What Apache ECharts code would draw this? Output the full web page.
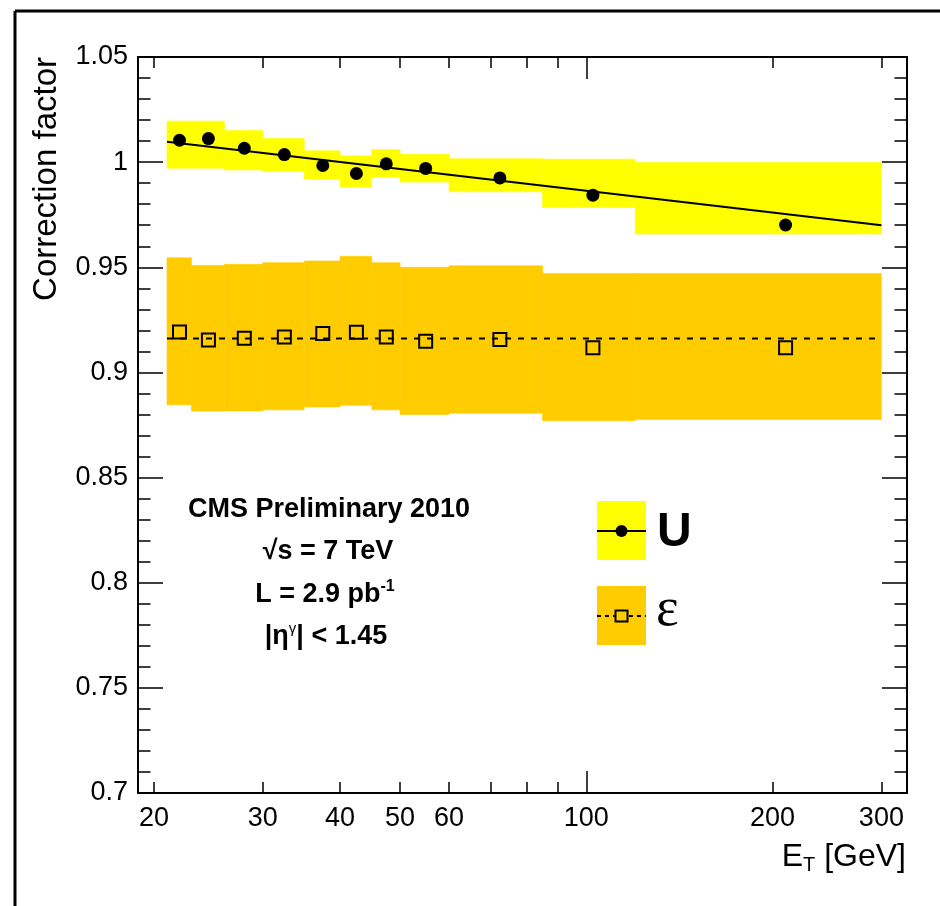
<!DOCTYPE html>
<html>
<head>
<meta charset="utf-8">
<script src="https://cdn.jsdelivr.net/npm/echarts@6/dist/echarts.min.js"></script>
<style>
html,body{margin:0;padding:0;background:#fff;}
#chart{width:940px;height:906px;}
</style>
</head>
<body>
<div id="chart"></div>
<script>
// ---- data ----
const binEdges = [21, 23, 26, 30, 35, 40, 45, 50, 60, 85, 120, 300];
const binCenters = [22, 24.5, 28, 32.5, 37.5, 42.5, 47.5, 55, 72.5, 102.5, 210];
const uValues = [1.0104, 1.0112, 1.0066, 1.0036, 0.9984, 0.9946, 0.9992, 0.9970, 0.9925, 0.9843, 0.9701];
const uBandHigh = [1.0195, 1.0195, 1.0150, 1.0112, 1.0054, 1.0030, 1.0060, 1.0038, 1.0016, 1.0014, 0.9998];
const uBandLow = [0.9971, 0.9971, 0.9963, 0.9955, 0.9919, 0.9881, 0.9927, 0.9905, 0.9859, 0.9784, 0.9658];
const effValues = [0.9192, 0.9154, 0.9162, 0.9169, 0.9185, 0.9191, 0.9169, 0.9148, 0.9156, 0.9117, 0.9117];
const effBandHigh = [0.9545, 0.9509, 0.9514, 0.9522, 0.9530, 0.9552, 0.9522, 0.9500, 0.9507, 0.9471, 0.9471];
const effBandLow = [0.8846, 0.8816, 0.8817, 0.8822, 0.8836, 0.8844, 0.8822, 0.8800, 0.8806, 0.8770, 0.8776];
const uFit = [[21, 1.0097], [300, 0.9700]];
const effFit = [[21, 0.9161], [300, 0.9161]];
const xRange = [18.85, 330];
const xMinorTicks = [20, 30, 40, 50, 60, 70, 80, 90, 200, 300];
const xMajorTicks = [100];
const xTickLabels = [20, 30, 40, 50, 60, 100, 200, 300];
const yTickLabels = [0.7, 0.75, 0.8, 0.85, 0.9, 0.95, 1, 1.05];

// ---- helpers ----
const L = v => Math.log10(v);
const FONT = '"Liberation Sans", Arial, Helvetica, sans-serif';
const bandData = (lo, hi) => lo.map((v, i) => [L(binEdges[i]), L(binEdges[i + 1]), v, hi[i]]);
const bandRender = color => function (params, api) {
  const p0 = api.coord([api.value(0), api.value(3)]);
  const p1 = api.coord([api.value(1), api.value(2)]);
  return {
    type: 'rect',
    shape: { x: p0[0], y: p0[1], width: p1[0] - p0[0], height: p1[1] - p0[1] },
    style: { fill: color, stroke: color, lineWidth: 0.6 }
  };
};

const chart = echarts.init(document.getElementById('chart'), null, { renderer: 'canvas' });

const xBase = {
  type: 'value', min: L(xRange[0]), max: L(xRange[1]), gridIndex: 0,
  splitLine: { show: false }, axisPointer: { show: false }
};
const yBase = {
  type: 'value', min: 0.7, max: 1.05, interval: 0.05,
  splitLine: { show: false }, minorSplitLine: { show: false },
  axisLine: { show: true, onZero: false, lineStyle: { color: '#000', width: 2 } },
  axisTick: { show: true, inside: true, length: 25, lineStyle: { color: '#000', width: 1.5 } },
  minorTick: { show: true, splitNumber: 5, length: 12.5, lineStyle: { color: '#000', width: 1.5 } }
};

const option = {
  animation: false,
  backgroundColor: '#fff',
  grid: { left: 138, top: 57, width: 769, height: 736, containLabel: false, show: false },
  xAxis: [
    Object.assign({}, xBase, {
      position: 'bottom',
      axisLine: { show: true, onZero: false, lineStyle: { color: '#000', width: 2 } },
      axisTick: { show: true, inside: true, length: 11, customValues: xMinorTicks.map(L), lineStyle: { color: '#000', width: 1.5 } },
      axisLabel: {
        show: true, customValues: xTickLabels.map(L), margin: 12,
        color: '#000', fontSize: 27, fontFamily: FONT,
        formatter: v => String(Math.round(Math.pow(10, v)))
      }
    }),
    Object.assign({}, xBase, {
      position: 'bottom',
      axisLine: { show: false, onZero: false },
      axisTick: { show: true, inside: true, length: 22, customValues: xMajorTicks.map(L), lineStyle: { color: '#000', width: 1.5 } },
      axisLabel: { show: false }
    }),
    Object.assign({}, xBase, {
      position: 'top',
      axisLine: { show: true, onZero: false, lineStyle: { color: '#000', width: 2 } },
      axisTick: { show: true, inside: true, length: 11, customValues: xMinorTicks.map(L), lineStyle: { color: '#000', width: 1.5 } },
      axisLabel: { show: false }
    }),
    Object.assign({}, xBase, {
      position: 'top',
      axisLine: { show: false, onZero: false },
      axisTick: { show: true, inside: true, length: 22, customValues: xMajorTicks.map(L), lineStyle: { color: '#000', width: 1.5 } },
      axisLabel: { show: false }
    })
  ],
  yAxis: [
    Object.assign({}, yBase, {
      position: 'left',
      axisLabel: {
        show: true, margin: 10, color: '#000', fontSize: 27, fontFamily: FONT,
        customValues: yTickLabels, showMinLabel: true, showMaxLabel: true,
        formatter: v => String(parseFloat(Number(v).toFixed(2)))
      }
    }),
    Object.assign({}, yBase, {
      position: 'right',
      axisLabel: { show: false }
    })
  ],
  series: [
    {
      type: 'custom', name: 'U band', renderItem: bandRender('#FFFF00'),
      data: bandData(uBandLow, uBandHigh), encode: { x: [0, 1], y: [2, 3] }, z: 1, silent: true
    },
    {
      type: 'custom', name: 'eps band', renderItem: bandRender('#FFCC00'),
      data: bandData(effBandLow, effBandHigh), encode: { x: [0, 1], y: [2, 3] }, z: 1, silent: true
    },
    {
      type: 'line', name: 'U fit', data: uFit.map(p => [L(p[0]), p[1]]),
      showSymbol: false, symbol: 'none', lineStyle: { color: '#000', width: 2 }, z: 3, silent: true
    },
    {
      type: 'line', name: 'eps fit', data: effFit.map(p => [L(p[0]), p[1]]),
      showSymbol: false, symbol: 'none', lineStyle: { color: '#000', width: 2, type: [6, 7] }, z: 3, silent: true
    },
    {
      type: 'scatter', name: 'U', data: binCenters.map((x, i) => [L(x), uValues[i]]),
      symbol: 'circle', symbolSize: 13, itemStyle: { color: '#000', opacity: 1 }, z: 5, silent: true
    },
    {
      type: 'scatter', name: 'ε', data: binCenters.map((x, i) => [L(x), effValues[i]]),
      symbol: 'rect', symbolSize: 13,
      itemStyle: { color: 'rgba(0,0,0,0)', borderColor: '#000', borderWidth: 2, opacity: 1 }, z: 5, silent: true
    }
  ],
  graphic: [
    // outer frame (left and top edges)
    { type: 'line', shape: { x1: 15, y1: 11, x2: 15, y2: 906 }, style: { stroke: '#000', lineWidth: 3 } },
    { type: 'line', shape: { x1: 15, y1: 11, x2: 940, y2: 11 }, style: { stroke: '#000', lineWidth: 3 } },
    // axis titles
    {
      type: 'text', x: 47, y: 57, rotation: Math.PI / 2,
      style: { text: 'Correction factor', font: '33px ' + FONT, fill: '#000',
        align: 'right', verticalAlign: 'middle', textAlign: 'right', textVerticalAlign: 'middle' }
    },
    {
      type: 'text', x: 906, y: 857,
      style: {
        text: '{e|E}{t|T}{e| [GeV]}', fill: '#000', align: 'right', verticalAlign: 'middle',
        textAlign: 'right', textVerticalAlign: 'middle',
        rich: {
          e: { fontSize: 32, fontFamily: FONT, lineHeight: 36, verticalAlign: 'middle', color: '#000' },
          t: { fontSize: 20, fontFamily: FONT, lineHeight: 20, verticalAlign: 'bottom', color: '#000' }
        }
      }
    },
    // annotation
    {
      type: 'text', x: 329, y: 510,
      style: { text: 'CMS Preliminary 2010', font: 'bold 27px ' + FONT, fill: '#000',
        align: 'center', verticalAlign: 'middle', textAlign: 'center', textVerticalAlign: 'middle' }
    },
    {
      type: 'text', x: 328, y: 552,
      style: { text: '√s = 7 TeV', font: 'bold 27px ' + FONT, fill: '#000',
        align: 'center', verticalAlign: 'middle', textAlign: 'center', textVerticalAlign: 'middle' }
    },
    {
      type: 'text', x: 325, y: 595,
      style: {
        text: '{a|L = 2.9 pb}{s|-1}', align: 'center', verticalAlign: 'middle',
        textAlign: 'center', textVerticalAlign: 'middle',
        rich: {
          a: { fontSize: 27, fontWeight: 'bold', fontFamily: FONT, lineHeight: 32, verticalAlign: 'middle', color: '#000' },
          s: { fontSize: 16, fontWeight: 'bold', fontFamily: FONT, lineHeight: 18, verticalAlign: 'top', color: '#000' }
        }
      }
    },
    {
      type: 'text', x: 326, y: 637,
      style: {
        text: '{a||η}{s|γ}{a|| < 1.45}', align: 'center', verticalAlign: 'middle',
        textAlign: 'center', textVerticalAlign: 'middle',
        rich: {
          a: { fontSize: 27, fontWeight: 'bold', fontFamily: FONT, lineHeight: 32, verticalAlign: 'middle', color: '#000' },
          s: { fontSize: 15, fontWeight: 'normal', fontFamily: FONT, lineHeight: 18, verticalAlign: 'top', color: '#000' }
        }
      }
    },
    // legend
    { type: 'rect', shape: { x: 597, y: 501, width: 49, height: 59 }, style: { fill: '#FFFF00' } },
    { type: 'line', shape: { x1: 597, y1: 531, x2: 646, y2: 531 }, style: { stroke: '#000', lineWidth: 2 } },
    { type: 'circle', shape: { cx: 621.5, cy: 531, r: 6 }, style: { fill: '#000' } },
    {
      type: 'text', x: 657, y: 533,
      style: { text: 'U', font: 'bold 48px ' + FONT, fill: '#000',
        align: 'left', verticalAlign: 'middle', textAlign: 'left', textVerticalAlign: 'middle' }
    },
    { type: 'rect', shape: { x: 597, y: 586, width: 49, height: 59 }, style: { fill: '#FFCC00' } },
    { type: 'line', shape: { x1: 597, y1: 616, x2: 646, y2: 616 }, style: { stroke: '#000', lineWidth: 2, lineDash: [4, 4] } },
    { type: 'rect', shape: { x: 615.5, y: 610.5, width: 12, height: 11 }, style: { fill: '#FFCC00', stroke: '#000', lineWidth: 2 } },
    {
      type: 'text', x: 656, y: 611,
      style: { text: 'ε', font: '54px "Liberation Serif", "Times New Roman", serif', fill: '#000',
        align: 'left', verticalAlign: 'middle', textAlign: 'left', textVerticalAlign: 'middle' }
    }
  ]
};
chart.setOption(option);
</script>
</body>
</html>
